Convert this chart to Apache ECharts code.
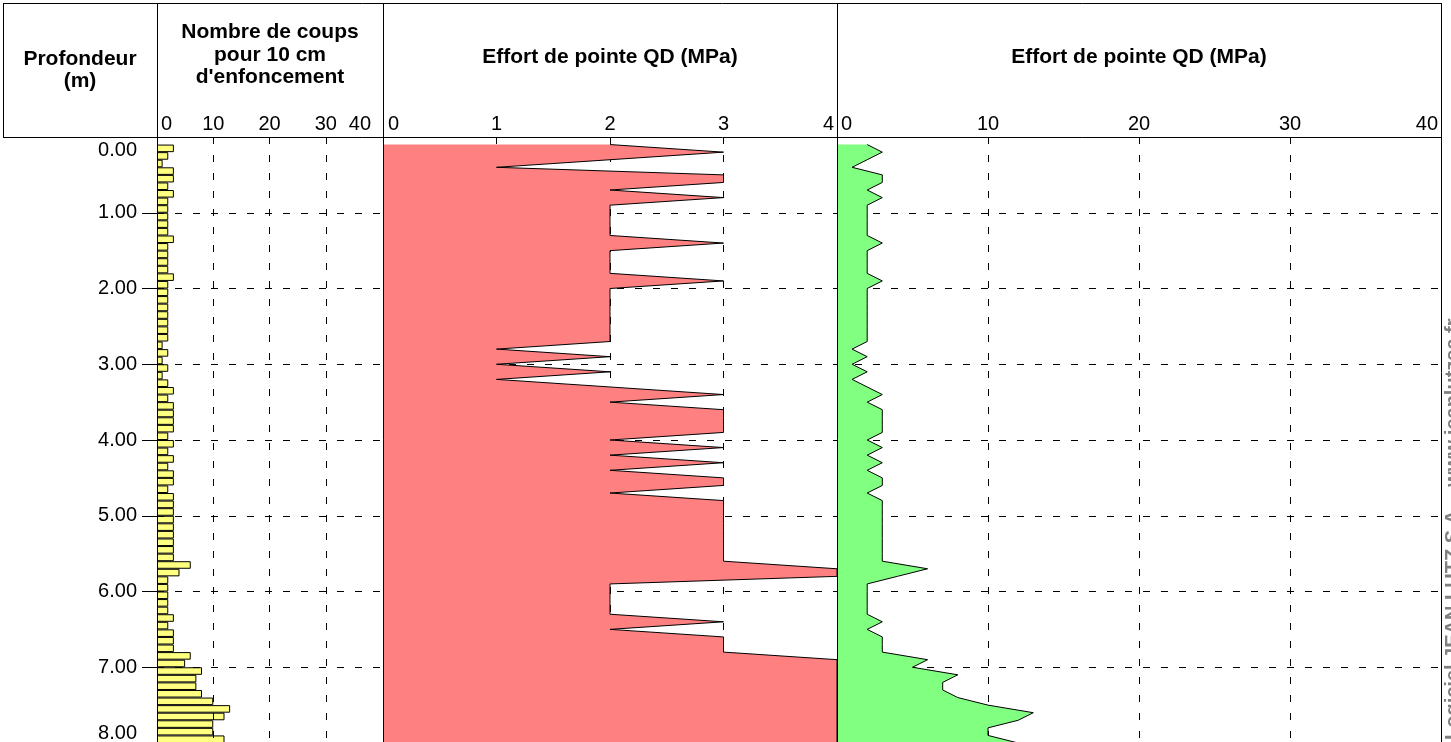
<!DOCTYPE html>
<html>
<head>
<meta charset="utf-8">
<title>Pénétromètre dynamique</title>
<script src="https://cdn.jsdelivr.net/npm/echarts@6/dist/echarts.min.js"></script>
<style>
  html, body { margin: 0; padding: 0; background: #fff; }
  #chart { width: 1451px; height: 742px; }
</style>
</head>
<body>
<div id="chart"></div>
<script>
// Blows counted for each 10 cm of penetration, from 0.1 m down to 8.0 m
const blowsPer10cm = [
  3, 2, 1, 3, 3, 2, 3, 2, 2, 2,
  2, 2, 3, 2, 2, 2, 2, 3, 2, 2,
  2, 2, 2, 2, 2, 2, 1, 2, 1, 2,
  1, 2, 3, 2, 3, 3, 3, 3, 2, 3,
  2, 3, 2, 3, 3, 2, 3, 3, 3, 3,
  3, 3, 3, 3, 3, 6, 4, 2, 2, 2,
  2, 2, 3, 2, 3, 3, 3, 6, 5, 8,
  7, 7, 8, 10, 13, 12, 10, 10, 12
];
// Dynamic point resistance QD (MPa) at depths 0.1, 0.2, ... 8.0 m
const qdMPa = [
  2, 3, 2, 1, 3, 3, 2, 3, 2, 2,
  2, 2, 2, 3, 2, 2, 2, 2, 3, 2,
  2, 2, 2, 2, 2, 2, 2, 1, 2, 1,
  2, 1, 2, 3, 2, 3, 3, 3, 3, 2,
  3, 2, 3, 2, 3, 3, 2, 3, 3, 3,
  3, 3, 3, 3, 3, 3, 6, 4, 2, 2,
  2, 2, 2, 3, 2, 3, 3, 3, 6, 5,
  8, 7, 7, 8, 10, 13, 12, 10, 10, 12
];
// Column headings
const headDepth = 'Profondeur\n(m)';
const headBlows = 'Nombre de coups\npour 10 cm\nd\'enfoncement';
const headQD = 'Effort de pointe QD (MPa)';
const credit = 'Logiciel JEAN LUTZ S.A. - www.jeanlutzsa.fr';

// Depth scale (m) and the value scales of the three panels
const depthMax = 8;
const depthStep = 0.1;
const blowsMax = 40, blowsStep = 10;
const qdZoomMax = 4, qdZoomStep = 1;
const qdMax = 40, qdStep = 10;

// Category slots: 10 cm bands for the bars, measurement depths for the profiles
const nBands = Math.round(depthMax / depthStep);
const bandNames = [];
for (let i = 0; i < nBands; i++) bandNames.push((i * depthStep).toFixed(1) + '-' + ((i + 1) * depthStep).toFixed(1));
const depthNames = [];
for (let i = 0; i <= nBands; i++) depthNames.push((i * depthStep).toFixed(1));

const FONT = '"Liberation Sans", Arial, Helvetica, sans-serif';
const GRID_TOP = 137, GRID_H = 606;
const dash = { color: '#000', width: 1, type: [7, 11] };

function valueX(gridIndex, max, step, padL, padR) {
  return {
    type: 'value', gridIndex: gridIndex, position: 'top', min: 0, max: max, interval: step, z: 3,
    axisLine: { show: false }, axisTick: { show: false },
    splitLine: { show: true, showMinLine: false, showMaxLine: false, lineStyle: dash },
    axisLabel: {
      show: true, margin: 3, fontSize: 20, fontFamily: FONT, color: '#000',
      alignMinLabel: 'left', alignMaxLabel: 'right',
      formatter: function (v) {
        if (v === 0) return '{lo|' + v + '}';
        if (v === max) return '{hi|' + v + '}';
        return String(v);
      },
      rich: {
        lo: { fontSize: 20, fontFamily: FONT, color: '#000', padding: [0, 0, 0, padL] },
        hi: { fontSize: 20, fontFamily: FONT, color: '#000', padding: [0, padR, 0, 0] }
      }
    }
  };
}

function depthAxis(gridIndex, labelled) {
  return {
    type: 'value', gridIndex: gridIndex, inverse: true, min: 0, max: depthMax, interval: 1, z: 3,
    axisLine: { show: true, onZero: false, lineStyle: { color: '#000', width: 1 } },
    axisTick: { show: labelled, length: 15, lineStyle: { color: '#000', width: 1 } },
    splitLine: { show: true, showMinLine: false, lineStyle: dash },
    axisLabel: {
      show: labelled, margin: 20, fontSize: 20, fontFamily: FONT, color: '#000',
      verticalAlignMinLabel: 'top', verticalAlignMaxLabel: 'bottom',
      formatter: function (v) { return v === 0 ? '{first|0.00}' : v.toFixed(2); },
      rich: { first: { fontSize: 20, fontFamily: FONT, color: '#000', lineHeight: 26 } }
    }
  };
}

function slotAxis(gridIndex, names, gap) {
  return { type: 'category', gridIndex: gridIndex, inverse: true, show: false, boundaryGap: gap, data: names };
}

function line(x1, y1, x2, y2) {
  return { type: 'line', silent: true, z: 10, shape: { x1: x1, y1: y1, x2: x2, y2: y2 },
           style: { stroke: '#000', lineWidth: 1 } };
}
function label(x, y, text, size, lh) {
  return { type: 'text', x: x, y: y, silent: true, z: 10,
           style: { text: text, fill: '#000', font: 'bold ' + size + 'px ' + FONT,
                    align: 'center', verticalAlign: 'middle', textAlign: 'center', textVerticalAlign: 'middle',
                    lineHeight: lh } };
}

const chart = echarts.init(document.getElementById('chart'), null, { renderer: 'canvas' });
chart.setOption({
  animation: false,
  backgroundColor: '#fff',
  grid: [
    { left: 157, top: GRID_TOP, width: 225, height: GRID_H, outerBoundsMode: 'none', containLabel: false },
    { left: 383, top: GRID_TOP, width: 454, height: GRID_H, outerBoundsMode: 'none', containLabel: false },
    { left: 837, top: GRID_TOP, width: 604, height: GRID_H, outerBoundsMode: 'none', containLabel: false }
  ],
  xAxis: [
    valueX(0, blowsMax, blowsStep, 4, 11),
    valueX(1, qdZoomMax, qdZoomStep, 5, 3),
    valueX(2, qdMax, qdStep, 4, 3)
  ],
  yAxis: [
    depthAxis(0, true),
    slotAxis(0, bandNames, true),
    depthAxis(1, false),
    slotAxis(1, depthNames, false),
    depthAxis(2, false),
    slotAxis(2, depthNames, false)
  ],
  series: [
    {
      name: 'Nombre de coups', type: 'bar', xAxisIndex: 0, yAxisIndex: 1,
      barWidth: '100%', barCategoryGap: 0,
      itemStyle: { color: '#FFFF80', borderColor: '#000', borderWidth: 1 },
      data: blowsPer10cm.map(function (v, i) { return [v, bandNames[i + 1]]; })
    },
    {
      name: 'QD 0-4', type: 'line', xAxisIndex: 1, yAxisIndex: 3,
      symbol: 'none', lineStyle: { color: '#000', width: 1 },
      areaStyle: { color: '#FF8080', opacity: 1 },
      data: qdMPa.map(function (v, i) { return [Math.min(v, qdZoomMax), depthNames[i + 1]]; })
    },
    {
      name: 'QD 0-40', type: 'line', xAxisIndex: 2, yAxisIndex: 5,
      symbol: 'none', lineStyle: { color: '#000', width: 1 },
      areaStyle: { color: '#80FF80', opacity: 1 },
      data: qdMPa.map(function (v, i) { return [v, depthNames[i + 1]]; })
    }
  ],
  graphic: [
    line(3, 3.5, 1442, 3.5),
    line(3, 137.5, 1442, 137.5),
    line(3.5, 3, 3.5, 138),
    line(157.5, 3, 157.5, 138),
    line(383.5, 3, 383.5, 138),
    line(837.5, 3, 837.5, 138),
    line(1441.5, 3, 1441.5, 742),
    label(80, 70, headDepth, 21, 22),
    label(270, 55, headBlows, 21, 22.5),
    label(610, 57, headQD, 21, 22),
    label(1139, 57, headQD, 21, 22),
    { type: 'text', x: 1443, y: 740, rotation: Math.PI / 2, silent: true, z: 10,
      style: { text: credit, fill: '#808080', font: 'bold 20px ' + FONT,
               align: 'left', verticalAlign: 'top', textAlign: 'left', textVerticalAlign: 'top' } }
  ]
});
</script>
</body>
</html>
